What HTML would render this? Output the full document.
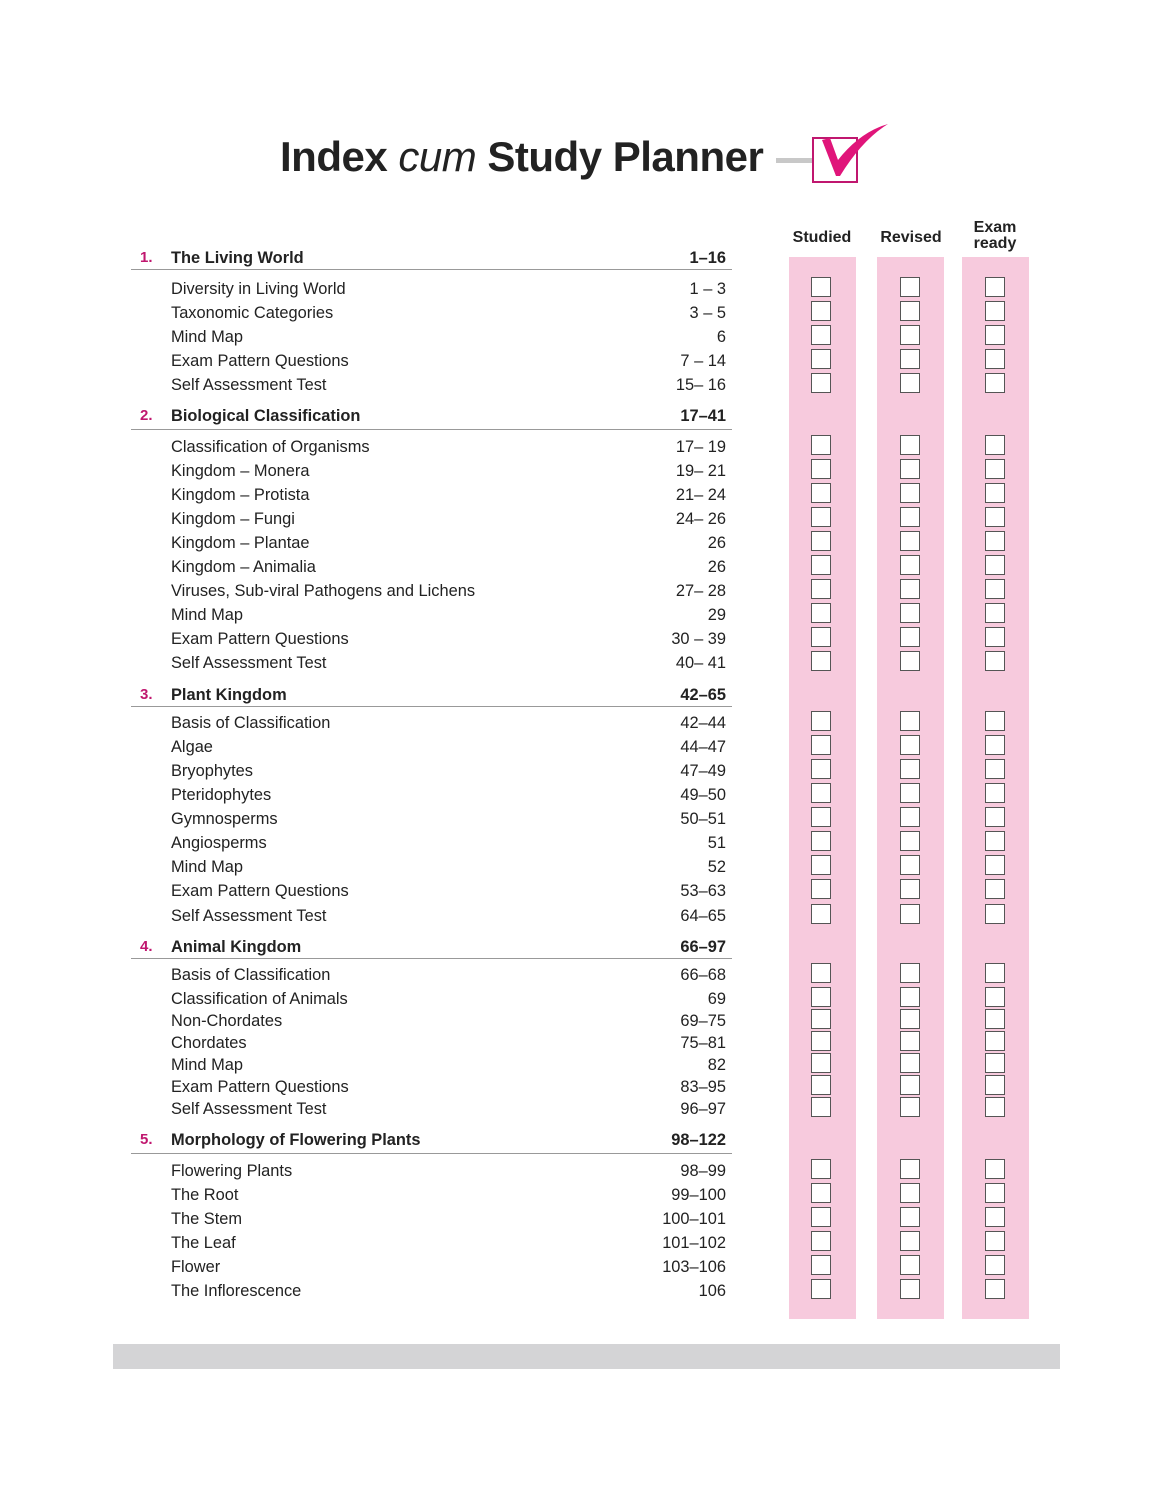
<!DOCTYPE html>
<html><head><meta charset="utf-8"><style>
body{margin:0;background:#fff;}
#p{position:relative;width:1174px;height:1500px;overflow:hidden;font-family:"Liberation Sans",sans-serif;color:#222;}
.t{position:absolute;height:20px;line-height:20px;font-size:16.4px;white-space:nowrap;margin-top:2px;}
.l{left:171px;}
.r{right:448px;text-align:right;}
.h{font-weight:bold;}
.n{left:140px;color:#c0176f;font-weight:bold;font-size:15px;}
.ln{position:absolute;left:131px;width:601px;height:1px;background:#999;}
.strip{position:absolute;top:257px;height:1062px;width:67px;background:#f7cadd;}
.cb{position:absolute;width:18px;height:18px;border:1.5px solid #555;background:#fff;}
.col{position:absolute;top:226px;font-weight:bold;font-size:16px;text-align:center;line-height:16px;width:90px;}
</style></head><body><div id="p">
<div style="position:absolute;left:280px;top:130px;font-size:42px;font-weight:bold;white-space:nowrap;line-height:54px;letter-spacing:-0.5px">Index <span style="font-style:italic;font-weight:normal">cum</span> Study Planner</div>
<div style="position:absolute;left:776px;top:158px;width:38px;height:5px;background:#c8c8c8"></div>
<div style="position:absolute;left:812px;top:137px;width:42px;height:42px;border:2px solid #c0176f"></div>
<svg style="position:absolute;left:810px;top:120px" width="90" height="70"><path d="M12 20 L20 18 L28 40 Q50 12 78 4 Q52 20 30 56 L26 56 Z" fill="#e0157a"/></svg>
<div class="col" style="left:777px;top:230px">Studied</div>
<div class="col" style="left:866px;top:230px">Revised</div>
<div class="col" style="left:950px;top:220px">Exam<br>ready</div>
<div class="strip" style="left:789px"></div>
<div class="strip" style="left:877px"></div>
<div class="strip" style="left:962px"></div>
<div style="position:absolute;left:113px;top:1344px;width:947px;height:25px;background:#d4d4d6"></div>

<div class="t n" style="top:246px">1.</div><div class="t l h" style="top:246px">The Living World</div><div class="t r h" style="top:246px">1–16</div><div class="ln" style="top:269px"></div>
<div class="t n" style="top:404px">2.</div><div class="t l h" style="top:404px">Biological Classification</div><div class="t r h" style="top:404px">17–41</div><div class="ln" style="top:429px"></div>
<div class="t n" style="top:683px">3.</div><div class="t l h" style="top:683px">Plant Kingdom</div><div class="t r h" style="top:683px">42–65</div><div class="ln" style="top:706px"></div>
<div class="t n" style="top:935px">4.</div><div class="t l h" style="top:935px">Animal Kingdom</div><div class="t r h" style="top:935px">66–97</div><div class="ln" style="top:958px"></div>
<div class="t n" style="top:1128px">5.</div><div class="t l h" style="top:1128px">Morphology of Flowering Plants</div><div class="t r h" style="top:1128px">98–122</div><div class="ln" style="top:1153px"></div>

<div class="t l" style="top:277px">Diversity in Living World</div><div class="t r" style="top:277px">1 – 3</div>
<div class="t l" style="top:301px">Taxonomic Categories</div><div class="t r" style="top:301px">3 – 5</div>
<div class="t l" style="top:325px">Mind Map</div><div class="t r" style="top:325px">6</div>
<div class="t l" style="top:349px">Exam Pattern Questions</div><div class="t r" style="top:349px">7 – 14</div>
<div class="t l" style="top:373px">Self Assessment Test</div><div class="t r" style="top:373px">15– 16</div>

<div class="t l" style="top:435px">Classification of Organisms</div><div class="t r" style="top:435px">17– 19</div>
<div class="t l" style="top:459px">Kingdom – Monera</div><div class="t r" style="top:459px">19– 21</div>
<div class="t l" style="top:483px">Kingdom – Protista</div><div class="t r" style="top:483px">21– 24</div>
<div class="t l" style="top:507px">Kingdom – Fungi</div><div class="t r" style="top:507px">24– 26</div>
<div class="t l" style="top:531px">Kingdom – Plantae</div><div class="t r" style="top:531px">26</div>
<div class="t l" style="top:555px">Kingdom – Animalia</div><div class="t r" style="top:555px">26</div>
<div class="t l" style="top:579px">Viruses, Sub-viral Pathogens and Lichens</div><div class="t r" style="top:579px">27– 28</div>
<div class="t l" style="top:603px">Mind Map</div><div class="t r" style="top:603px">29</div>
<div class="t l" style="top:627px">Exam Pattern Questions</div><div class="t r" style="top:627px">30 – 39</div>
<div class="t l" style="top:651px">Self Assessment Test</div><div class="t r" style="top:651px">40– 41</div>

<div class="t l" style="top:711px">Basis of Classification</div><div class="t r" style="top:711px">42–44</div>
<div class="t l" style="top:735px">Algae</div><div class="t r" style="top:735px">44–47</div>
<div class="t l" style="top:759px">Bryophytes</div><div class="t r" style="top:759px">47–49</div>
<div class="t l" style="top:783px">Pteridophytes</div><div class="t r" style="top:783px">49–50</div>
<div class="t l" style="top:807px">Gymnosperms</div><div class="t r" style="top:807px">50–51</div>
<div class="t l" style="top:831px">Angiosperms</div><div class="t r" style="top:831px">51</div>
<div class="t l" style="top:855px">Mind Map</div><div class="t r" style="top:855px">52</div>
<div class="t l" style="top:879px">Exam Pattern Questions</div><div class="t r" style="top:879px">53–63</div>
<div class="t l" style="top:904px">Self Assessment Test</div><div class="t r" style="top:904px">64–65</div>

<div class="t l" style="top:963px">Basis of Classification</div><div class="t r" style="top:963px">66–68</div>
<div class="t l" style="top:987px">Classification of Animals</div><div class="t r" style="top:987px">69</div>
<div class="t l" style="top:1009px">Non-Chordates</div><div class="t r" style="top:1009px">69–75</div>
<div class="t l" style="top:1031px">Chordates</div><div class="t r" style="top:1031px">75–81</div>
<div class="t l" style="top:1053px">Mind Map</div><div class="t r" style="top:1053px">82</div>
<div class="t l" style="top:1075px">Exam Pattern Questions</div><div class="t r" style="top:1075px">83–95</div>
<div class="t l" style="top:1097px">Self Assessment Test</div><div class="t r" style="top:1097px">96–97</div>

<div class="t l" style="top:1159px">Flowering Plants</div><div class="t r" style="top:1159px">98–99</div>
<div class="t l" style="top:1183px">The Root</div><div class="t r" style="top:1183px">99–100</div>
<div class="t l" style="top:1207px">The Stem</div><div class="t r" style="top:1207px">100–101</div>
<div class="t l" style="top:1231px">The Leaf</div><div class="t r" style="top:1231px">101–102</div>
<div class="t l" style="top:1255px">Flower</div><div class="t r" style="top:1255px">103–106</div>
<div class="t l" style="top:1279px">The Inflorescence</div><div class="t r" style="top:1279px">106</div>

<div id="boxes"></div>
</div>
<script>
var ys=[287,311,335,359,383,445,469,493,517,541,565,589,613,637,661,721,745,769,793,817,841,865,889,914,973,997,1019,1041,1063,1085,1107,1169,1193,1217,1241,1265,1289];
var xs=[821,910,995],h='';
ys.forEach(function(y){xs.forEach(function(x){h+='<div class="cb" style="left:'+(x-10)+'px;top:'+(y-10)+'px"></div>';});});
document.getElementById('boxes').innerHTML=h;
</script>
</body></html>
